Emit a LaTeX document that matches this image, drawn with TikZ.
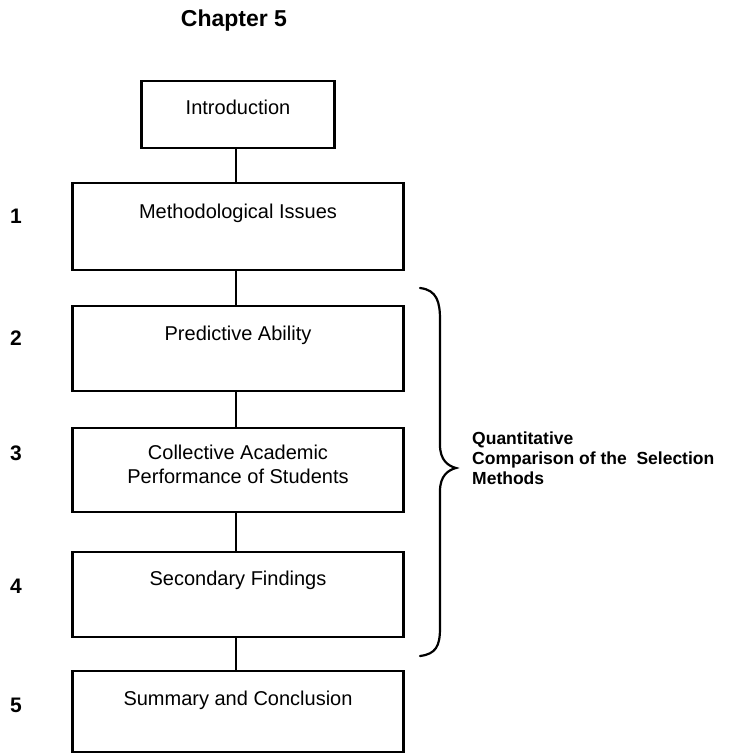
\documentclass[tikz,border=0pt]{standalone}
\usepackage{fontspec}
\setmainfont{Liberation Sans}
\begin{document}
\begin{tikzpicture}[x=1pt,y=-1pt,
  box/.style={draw=black, line width=2.2pt, rectangle, inner sep=0pt, minimum width=331pt},
  boxtxt/.style={inner sep=0pt, font=\fontsize{20}{24}\selectfont, align=center},
  num/.style={inner sep=0pt, anchor=base, font=\fontsize{21}{24}\selectfont\bfseries},
  conn/.style={draw=black, line width=2pt},
  bracestyle/.style={draw=black, line width=2.2pt, line cap=round},
  lbl/.style={inner sep=0pt, font=\fontsize{17.5}{20}\selectfont\bfseries, align=left}]
\useasboundingbox (0,0) rectangle (728,754);

\node[inner sep=0pt, anchor=base, font=\fontsize{23}{26}\selectfont\bfseries] (title) at (234,27) {Chapter 5};

\node[box, minimum width=193pt, minimum height=67pt] (intro) at (238,114.5) {};
\node[box, minimum height=87pt] (m1) at (238,226.5) {};
\node[box, minimum height=85pt] (m2) at (238,348.5) {};
\node[box, minimum height=84pt] (m3) at (238,470) {};
\node[box, minimum height=85pt] (m4) at (238,594.5) {};
\node[box, minimum height=81pt] (m5) at (238,711.5) {};

\node[boxtxt, anchor=base] (tintro) at (238,115) {Introduction};
\node[boxtxt, anchor=base] (t1) at (238,218) {Methodological Issues};
\node[boxtxt, anchor=base] (t2) at (238,340) {Predictive Ability};
\node[boxtxt, anchor=north] (t3) at (238,445) {Collective Academic\\Performance of Students};
\node[boxtxt, anchor=base] (t4) at (238,585) {Secondary Findings};
\node[boxtxt, anchor=base] (t5) at (238,705) {Summary and Conclusion};

\node[num] (n1) at (16,223) {1};
\node[num] (n2) at (16,345) {2};
\node[num] (n3) at (16,460) {3};
\node[num] (n4) at (16,593) {4};
\node[num] (n5) at (16,712) {5};

\draw[conn] ([xshift=-2pt]intro.south) -- ([xshift=-2pt]m1.north);
\draw[conn] ([xshift=-2pt]m1.south) -- ([xshift=-2pt]m2.north);
\draw[conn] ([xshift=-2pt]m2.south) -- ([xshift=-2pt]m3.north);
\draw[conn] ([xshift=-2pt]m3.south) -- ([xshift=-2pt]m4.north);
\draw[conn] ([xshift=-2pt]m4.south) -- ([xshift=-2pt]m5.north);

\coordinate (btop) at (420,288);
\coordinate (btip) at (456,468);
\coordinate (bbot) at (420,656);
\draw[bracestyle] (btop) .. controls (437,290) and (440,302) .. (440,320)
  -- (440,445) .. controls (440,460) and (448,466) .. (btip)
  .. controls (448,470) and (440,476) .. (440,491)
  -- (440,628) .. controls (440,646) and (436,654) .. (bbot);

\node[lbl, anchor=north west] (q) at (472,432) {Quantitative\\Comparison of the~~Selection\\Methods};
\end{tikzpicture}
\end{document}
